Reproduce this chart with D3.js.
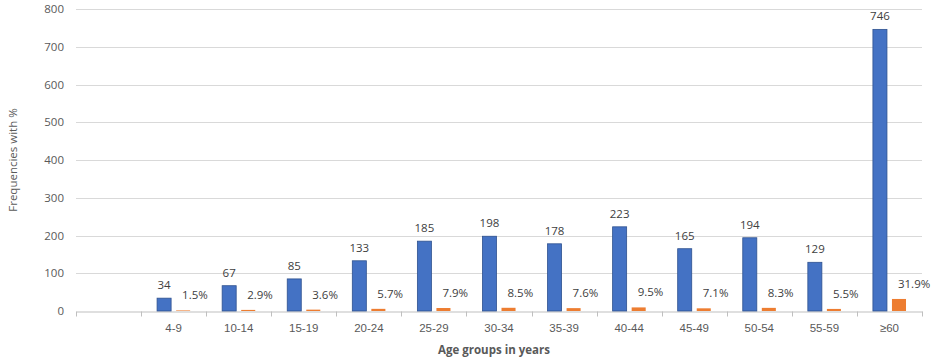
<!DOCTYPE html>
<html>
<head>
<meta charset="utf-8">
<script src="https://cdn.jsdelivr.net/npm/d3@7"></script>
<style>
  body { margin: 0; background: #fff; }
  svg { font-family: "Open Sans", sans-serif; }
  .grid-line { stroke: #d9d9d9; stroke-width: 1; }
  .tick-label { fill: #595959; font-size: 11.5px; }
  .value-label { fill: #404040; font-size: 11.5px; }
</style>
</head>
<body>
<script>
// first slot is empty in the original chart
const categories = ['', '4-9', '10-14', '15-19', '20-24', '25-29', '30-34', '35-39', '40-44', '45-49', '50-54', '55-59', '≥60'];
const frequencies = [null, 34, 67, 85, 133, 185, 198, 178, 223, 165, 194, 129, 746];
const percents = [null, 1.5, 2.9, 3.6, 5.7, 7.9, 8.5, 7.6, 9.5, 7.1, 8.3, 5.5, 31.9];
const yTicks = [0, 100, 200, 300, 400, 500, 600, 700, 800];

const width = 945, height = 363;
const margins = {top: 9, left: 76, right: 23, bottom: 52};

const svg = d3.select('body').append('svg')
    .attr('width', width)
    .attr('height', height);

const x = d3.scaleBand()
    .domain(d3.range(categories.length))
    .range([margins.left, width - margins.right])
    .paddingInner(0)
    .paddingOuter(0);

const y = d3.scaleLinear()
    .domain([0, 800])
    .range([height - margins.bottom, margins.top]);

const inner = d3.scaleBand()
    .domain(['freq', 'pct'])
    .range([0, x.bandwidth()])
    .paddingInner(0.263)
    .paddingOuter(0.84);

// gridlines + y labels
const yAxisG = svg.append('g');
yAxisG.selectAll('line.grid-line')
    .data(yTicks.filter(d => d > 0))
    .join('line')
    .attr('class', 'grid-line')
    .attr('x1', margins.left)
    .attr('x2', width - margins.right)
    .attr('y1', d => Math.round(y(d)) + 0.5)
    .attr('y2', d => Math.round(y(d)) + 0.5);

yAxisG.selectAll('text')
    .data(yTicks)
    .join('text')
    .attr('class', 'tick-label')
    .attr('x', 64)
    .attr('y', d => y(d))
    .attr('dy', '0.35em')
    .attr('text-anchor', 'end')
    .text(d => d);

// x axis
const xAxis = d3.axisBottom(x)
    .tickFormat(i => categories[i])
    .tickSize(0)
    .tickPadding(12);

const xAxisG = svg.append('g')
    .attr('transform', 'translate(0,' + (Math.round(y(0)) + 0.5) + ')')
    .call(xAxis);
xAxisG.select('.domain').attr('stroke', '#bfbfbf');
xAxisG.selectAll('.tick text').attr('class', 'tick-label').attr('fill', null);

// tick marks at the slot boundaries
xAxisG.selectAll('line.sep')
    .data(d3.range(categories.length + 1))
    .join('line')
    .attr('class', 'sep')
    .attr('stroke', '#bfbfbf')
    .attr('x1', i => Math.round(margins.left + i * x.bandwidth()) + 0.5)
    .attr('x2', i => Math.round(margins.left + i * x.bandwidth()) + 0.5)
    .attr('y1', 0)
    .attr('y2', 5);

// bars
const idx = d3.range(categories.length).filter(i => frequencies[i] != null);

svg.append('g').selectAll('rect')
    .data(idx)
    .join('rect')
    .attr('x', i => x(i) + inner('freq'))
    .attr('width', inner.bandwidth())
    .attr('y', i => y(frequencies[i]))
    .attr('height', i => y(0) - y(frequencies[i]))
    .attr('fill', '#4472c4')
    .attr('stroke', '#2f528f')
    .attr('stroke-width', 0.8);

svg.append('g').selectAll('rect')
    .data(idx)
    .join('rect')
    .attr('x', i => x(i) + inner('pct'))
    .attr('width', inner.bandwidth())
    .attr('y', i => y(percents[i]))
    .attr('height', i => y(0) - y(percents[i]))
    .attr('fill', '#ed7d31');

// labels
svg.append('g').selectAll('text')
    .data(idx)
    .join('text')
    .attr('class', 'value-label')
    .attr('x', i => x(i) + inner('freq') + inner.bandwidth() / 2)
    .attr('y', i => y(frequencies[i]) - 9)
    .attr('text-anchor', 'middle')
    .text(i => frequencies[i]);

svg.append('g').selectAll('text')
    .data(idx)
    .join('text')
    .attr('class', 'value-label')
    .attr('x', i => x(i) + inner('pct') + 6)
    .attr('y', i => y(percents[i]) - 11)
    .text(i => percents[i].toFixed(1) + '%');

// axis titles
svg.append('text')
    .attr('x', 494)
    .attr('y', 354)
    .attr('text-anchor', 'middle')
    .attr('fill', '#595959')
    .attr('font-size', '11.5px')
    .attr('font-weight', 'bold')
    .text('Age groups in years');

svg.append('text')
    .attr('transform', 'translate(17,160) rotate(-90)')
    .attr('text-anchor', 'middle')
    .attr('fill', '#595959')
    .attr('font-size', '11.5px')
    .text('Frequencies with %');
</script>
</body>
</html>
